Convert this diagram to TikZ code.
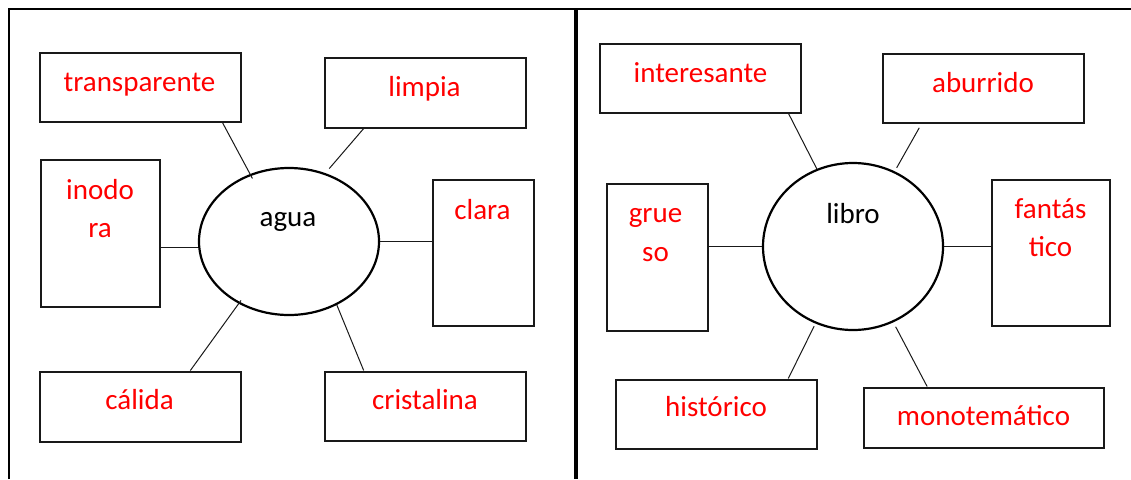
\documentclass[tikz,border=0pt]{standalone}
\usepackage{fontspec}
\setmainfont{Carlito}
\usetikzlibrary{shapes.geometric,calc}
\begin{document}
\begin{tikzpicture}[x=1pt,y=-1pt,
  box/.style 2 args={draw=black!90, line width=2pt, rectangle, inner sep=0pt, minimum width=#1, minimum height=#2},
  hub/.style 2 args={draw=black, line width=2.2pt, ellipse, inner sep=0pt, minimum width=#1, minimum height=#2},
  word/.style={text=red, font=\fontsize{29}{38}\selectfont, anchor=base, inner sep=0pt},
  hubword/.style={text=black, font=\fontsize{29}{38}\selectfont, anchor=base, inner sep=0pt},
  link/.style={line width=1pt, draw=black!90},
  frame/.style={line width=2pt, draw=black}
]
\useasboundingbox (0,0) rectangle (1131,479);
% frame
\coordinate (fTL) at (9,9);
\coordinate (fBL) at (9,479);
\coordinate (fTR) at (1131,9);
\coordinate (dT) at (576,9);
\coordinate (dB) at (576,479);
\draw[frame] (fBL) -- (fTL) -- (fTR);
\draw[line width=3.6pt] (dT) -- (dB);

% ---------- left: agua ----------
\node[hub={180}{147}] (agua) at (289,241.5) {};
\node[hubword] (agua-t) at (288,226) {agua};

\node[box={201}{69}] (transp) at (140,87) {};
\node[word] (transp-t) at (139.5,91) {transparente};

\node[box={201}{70}] (limpia) at (425,92.5) {};
\node[word] (limpia-t) at (424.5,96) {limpia};

\node[box={119}{147}] (inodora) at (100,233) {};
\node[word] (inodora-t1) at (100,199) {inodo};
\node[word] (inodora-t2) at (100,237) {ra};

\node[box={101}{146}] (clara) at (483,252.5) {};
\node[word] (clara-t) at (482.5,219) {clara};

\node[box={201}{70}] (calida) at (140,406.5) {};
\node[word] (calida-t) at (139.5,409) {cálida};

\node[box={201}{69}] (cristalina) at (425,406) {};
\node[word] (cristalina-t) at (425,409) {cristalina};

\draw[link, shorten >=-5pt] ($(transp.south west)!0.906!(transp.south east)$) -- (agua.120);
\draw[link, shorten >=6pt] ($(limpia.south west)!0.198!(limpia.south east)$) -- (agua.62.6);
\coordinate (inod-e) at ($(inodora.north east)!0.595!(inodora.south east)$);
\draw[link] (inod-e) -- (inod-e -| agua.west);
\draw[link] (agua.east) -- (agua.east -| clara.west);
\draw[link, shorten >=-4pt] ($(calida.north west)!0.748!(calida.north east)$) -- (agua.231.5);
\draw[link] ($(cristalina.north west)!0.198!(cristalina.north east)$) -- (agua.307.7);

% ---------- right: libro ----------
\node[hub={180}{167}] (libro) at (853,246.5) {};
\node[hubword] (libro-t) at (853,223) {libro};

\node[box={201}{69}] (interesante) at (700,78) {};
\node[word] (interesante-t) at (700.5,82) {interesante};

\node[box={201}{69}] (aburrido) at (983,88) {};
\node[word] (aburrido-t) at (983,92) {aburrido};

\node[box={101}{147}] (grueso) at (657,257) {};
\node[word] (grueso-t1) at (655.5,222) {grue};
\node[word] (grueso-t2) at (655.5,261) {so};

\node[box={118}{146}] (fantastico) at (1050.5,252.5) {};
\node[word] (fantastico-t1) at (1050.5,218) {fantás};
\node[word] (fantastico-t2) at (1050.5,256) {tico};

\node[box={201}{69}] (historico) at (716,414) {};
\node[word] (historico-t) at (716,416) {histórico};

\node[box={240}{60}] (monotematico) at (983.5,417.5) {};
\node[word] (monotematico-t) at (983.5,425) {monotemático};

\draw[link] ($(interesante.south west)!0.936!(interesante.south east)$) -- (libro.115.2);
\draw[link, shorten <=5pt, shorten >=4pt] ($(aburrido.south west)!0.198!(aburrido.south east)$) -- (libro.61.1);
\draw[link] (libro.west) -- (libro.west -| grueso.east);
\draw[link] (libro.east) -- (libro.east -| fantastico.west);
\draw[link, shorten >=3pt] ($(historico.north west)!0.856!(historico.north east)$) -- (libro.244.8);
\draw[link, shorten >=5pt] ($(monotematico.north west)!0.267!(monotematico.north east)$) -- (libro.298.9);
\end{tikzpicture}
\end{document}
